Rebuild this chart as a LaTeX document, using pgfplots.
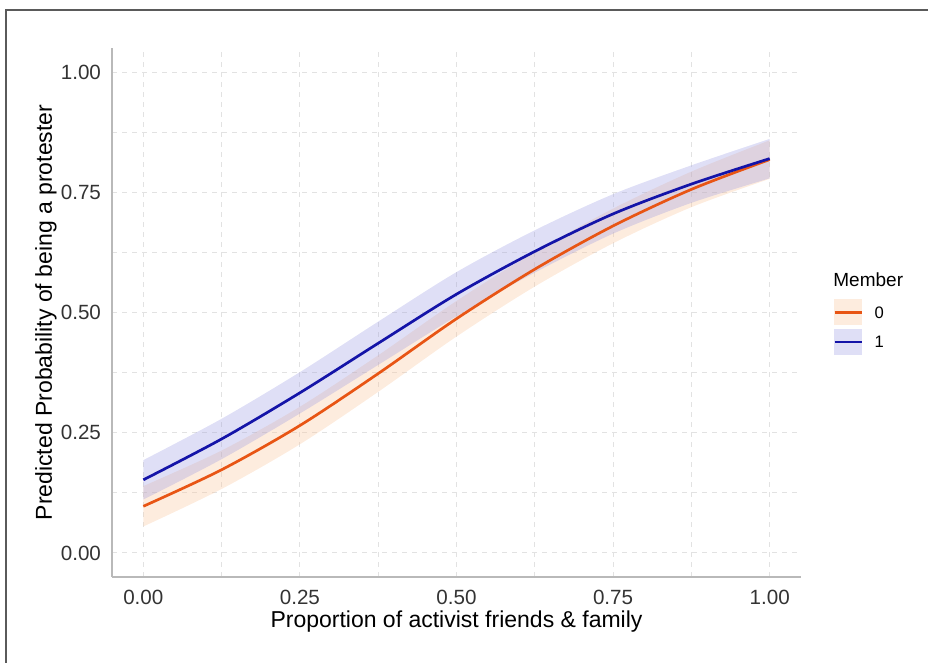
\documentclass[border=0pt]{standalone}
\usepackage{fontspec}
\setmainfont{Liberation Sans}
\usepackage{pgfplots}
\pgfplotsset{compat=1.18}
\usepackage{pgfplotstable}
\usepgfplotslibrary{fillbetween}

\definecolor{lineO}{RGB}{232,85,20}
\definecolor{lineB}{RGB}{20,20,168}
\definecolor{ribO}{RGB}{250,200,160}
\definecolor{ribB}{RGB}{150,150,225}
\definecolor{keyO}{RGB}{253,236,222}
\definecolor{keyB}{RGB}{223,223,246}
\definecolor{gridc}{RGB}{226,226,226}
\definecolor{axisc}{RGB}{185,185,185}
\definecolor{framec}{RGB}{90,90,90}

\pgfplotstableread{
x     lo0   m0    hi0   lo1   m1    hi1
0     0.055 0.097 0.139 0.111 0.152 0.193
0.125 0.133 0.173 0.213 0.195 0.237 0.279
0.25  0.226 0.265 0.304 0.290 0.333 0.376
0.375 0.335 0.373 0.411 0.391 0.436 0.481
0.5   0.450 0.487 0.524 0.492 0.538 0.584
0.625 0.554 0.590 0.626 0.583 0.627 0.671
0.75  0.644 0.680 0.716 0.664 0.705 0.746
0.875 0.719 0.756 0.793 0.728 0.767 0.806
1.0   0.778 0.818 0.858 0.779 0.820 0.861
}\pred

\begin{document}
\begin{tikzpicture}
\draw[framec, line width=0.6pt] (3pt,0pt) -- (3pt,326.5pt) -- (464pt,326.5pt);
\begin{axis}[
  at={(56pt,43pt)}, anchor=south west,
  scale only axis, width=344.5pt, height=264.5pt,
  xmin=-0.05, xmax=1.05, ymin=-0.05, ymax=1.05,
  axis x line=bottom, axis y line=left,
  axis line style={-, axisc, line width=0.8pt},
  xtick={0,0.25,0.5,0.75,1}, xticklabels={0.00,0.25,0.50,0.75,1.00},
  ytick={0,0.25,0.5,0.75,1}, yticklabels={0.00,0.25,0.50,0.75,1.00},
  minor xtick={0.125,0.375,0.625,0.875},
  minor ytick={0.125,0.375,0.625,0.875},
  grid=both,
  major grid style={gridc, dash pattern=on 2.5pt off 2.5pt, line width=0.5pt},
  minor grid style={gridc, dash pattern=on 2.5pt off 2.5pt, line width=0.5pt},
  major tick length=0pt, minor tick length=0pt,
  tick label style={font=\fontsize{10.3}{12}\selectfont, text=black!80},
  xticklabel style={yshift=-3pt},
  yticklabel style={xshift=-2pt},
  xlabel={Proportion of activist friends \& family},
  ylabel={Predicted Probability of being a protester},
  label style={font=\fontsize{11.5}{13}\selectfont},
  xlabel style={at={(axis description cs:0.5,-0.0964)}, anchor=base},
  ylabel style={at={(axis description cs:-0.0871,0.5)}, anchor=base},
  legend style={at={(1.0464,0.5255)}, anchor=north west, draw=none, fill=none,
    inner sep=0pt, inner xsep=0pt, inner ysep=0pt,
    nodes={inner sep=0pt, text depth=0pt},
    row sep=2pt, column sep=5.8pt,
    font=\fontsize{8.3}{9}\selectfont},
  legend cell align=left,
]
\addplot[name path=lo0, draw=none, smooth, forget plot] table[x=x,y=lo0]{\pred};
\addplot[name path=hi0, draw=none, smooth, forget plot] table[x=x,y=hi0]{\pred};
\addplot[fill=ribO, fill opacity=0.35, draw=none, forget plot] fill between[of=hi0 and lo0];
\addplot[name path=lo1, draw=none, smooth, forget plot] table[x=x,y=lo1]{\pred};
\addplot[name path=hi1, draw=none, smooth, forget plot] table[x=x,y=hi1]{\pred};
\addplot[fill=ribB, fill opacity=0.3, draw=none, forget plot] fill between[of=hi1 and lo1];
\addplot[lineO, line width=1.35pt, smooth, forget plot] table[x=x,y=m0]{\pred};
\addplot[lineB, line width=1.35pt, smooth, forget plot] table[x=x,y=m1]{\pred};

\addlegendimage{legend image code/.code={\fill[keyO] (0pt,-6.25pt) rectangle (13.5pt,6.25pt); \draw[lineO, line width=1.35pt] (0pt,0pt) -- (13.5pt,0pt);}}
\addlegendentry{0}
\addlegendimage{legend image code/.code={\fill[keyB] (0pt,-6.25pt) rectangle (13.5pt,6.25pt); \draw[lineB, line width=1.35pt] (0pt,0pt) -- (13.5pt,0pt);}}
\addlegendentry{1}
\end{axis}
\node[anchor=base west, inner sep=0pt, font=\fontsize{9.5}{11}\selectfont] at (416.5pt,188.2pt) {Member};
\pgfresetboundingbox
\useasboundingbox (0,0) rectangle (464pt,331.5pt);
\end{tikzpicture}
\end{document}
